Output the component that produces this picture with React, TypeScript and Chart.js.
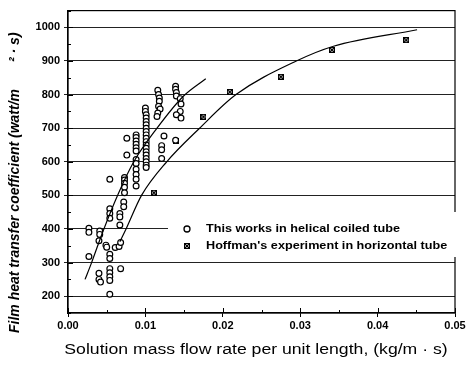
import { useEffect, useRef } from "react";
import { Chart, registerables } from "chart.js";

Chart.register(...registerables);

// Data
const helicalX = [
  0.0027, 0.0027, 0.0027,
  0.0041, 0.0041, 0.004, 0.004, 0.004, 0.0042,
  0.0049, 0.005,
  0.0054, 0.0054, 0.0054, 0.0054, 0.0054, 0.0054, 0.0054, 0.0054, 0.0054, 0.0054, 0.0054,
  0.0061, 0.0066, 0.0068, 0.0068, 0.0067, 0.0067, 0.0067,
  0.0073, 0.0073, 0.0073, 0.0073, 0.0073, 0.0072, 0.0072,
  0.0076, 0.0076,
  0.0088, 0.0088, 0.0088, 0.0088, 0.0088, 0.0088, 0.0088, 0.0088, 0.0088, 0.0088, 0.0088, 0.0088,
  0.01, 0.01, 0.0101, 0.0101, 0.0101, 0.0101, 0.0101, 0.0101, 0.0101, 0.0101, 0.0101, 0.0101, 0.0101, 0.0101, 0.0101, 0.0101, 0.0101, 0.0101, 0.0101,
  0.0116, 0.0117, 0.0118, 0.0118, 0.0117, 0.0119, 0.0116, 0.0115,
  0.0124, 0.0121, 0.0121, 0.0121,
  0.0139, 0.0139, 0.014, 0.014, 0.0145, 0.0146, 0.0145, 0.014, 0.0146, 0.0139,
];
const helicalY = [
  402, 390, 318,
  394, 384, 365, 268, 250, 242,
  352, 346,
  548, 460, 446, 432, 325, 312, 282, 270, 258, 247, 206,
  345, 348, 360, 282, 446, 436, 412,
  553, 546, 536, 524, 508, 480, 466,
  670, 620,
  680, 672, 662, 652, 642, 632, 607, 595, 578, 562, 548, 528,
  760, 750, 740, 730, 720, 710, 700, 690, 680, 670, 660, 650, 640, 630, 620, 610, 600, 590, 583,
  813, 800, 790, 780, 765, 757, 745, 735,
  677, 648, 636, 610,
  825, 816, 806, 796, 788, 772, 750, 740, 730, 664,
];

const hoffmanX = [0.0111, 0.0139, 0.0175, 0.0209, 0.0275, 0.0341, 0.0437];
const hoffmanY = [508, 662, 734, 808, 853, 933, 962];

const upperFitX = [0.0022, 0.003, 0.0045, 0.0064, 0.0085, 0.0115, 0.0149, 0.0178];
const upperFitY = [250, 297, 392, 500, 600, 700, 795, 847];

const lowerFitX = [0.0067, 0.0075, 0.0095, 0.01275, 0.017, 0.0217, 0.0295, 0.0343, 0.0451];
const lowerFitY = [362, 400, 500, 600, 700, 800, 900, 944, 993];

const xTicks = [0, 0.01, 0.02, 0.03, 0.04, 0.05];
const yTicks = [200, 300, 400, 500, 600, 700, 800, 900, 1000];

const seriesLabels = ["This works in helical coiled tube", "Hoffman's experiment in horizontal tube"];
const xTitle = "Solution mass flow rate per unit length, (kg/m · s)";
const yTitleMain = "Film heat transfer coefficient (watt/m";
const yTitleTail = "² · s)";

const FONT = "'Liberation Sans', Arial, sans-serif";

function makeHoffmanMarker(): HTMLCanvasElement {
  const c = document.createElement("canvas");
  c.width = 6;
  c.height = 6;
  const g = c.getContext("2d")!;
  g.fillStyle = "#999";
  g.fillRect(0.5, 0.5, 5, 5);
  g.strokeStyle = "#000";
  g.lineWidth = 1;
  g.strokeRect(0.5, 0.5, 5, 5);
  g.beginPath();
  g.moveTo(0.5, 0.5);
  g.lineTo(5.5, 5.5);
  g.moveTo(5.5, 0.5);
  g.lineTo(0.5, 5.5);
  g.stroke();
  return c;
}

function stretchedText(ctx: CanvasRenderingContext2D, text: string, x: number, y: number, sx: number) {
  ctx.save();
  ctx.translate(x, y);
  ctx.scale(sx, 1);
  ctx.fillText(text, 0, 0);
  ctx.restore();
}

export default function App() {
  const ref = useRef<HTMLCanvasElement | null>(null);

  useEffect(() => {
    document.body.style.margin = "0";
    const canvas = ref.current;
    if (!canvas) return;
    const marker = makeHoffmanMarker();

    const framePlugin = {
      id: "frameAndExtras",
      afterDatasetsDraw(chart: any) {
        const { ctx, chartArea } = chart;
        const xs = chart.scales.x;
        const ys = chart.scales.y;
        ctx.save();
        ctx.strokeStyle = "#000";
        ctx.lineWidth = 1.2;
        ctx.strokeRect(chartArea.left, chartArea.top, chartArea.right - chartArea.left, chartArea.bottom - chartArea.top);
        // inward ticks
        ctx.lineWidth = 1;
        ctx.beginPath();
        for (let i = 0; i <= 10; i++) {
          const v = i * 0.005;
          const px = Math.round(xs.getPixelForValue(v)) + 0.5;
          const len = i % 2 === 0 ? 5 : 3;
          ctx.moveTo(px, chartArea.bottom);
          ctx.lineTo(px, chartArea.bottom - len);
        }
        for (let v = 150; v <= 1050; v += 50) {
          const py = Math.round(ys.getPixelForValue(v)) + 0.5;
          const len = v % 100 === 0 ? 5 : 3;
          ctx.moveTo(chartArea.left, py);
          ctx.lineTo(chartArea.left + len, py);
        }
        ctx.stroke();

        // legend box
        ctx.fillStyle = "#fff";
        ctx.fillRect(168, 212, 292, 45);
        ctx.beginPath();
        ctx.arc(187, 229, 3, 0, Math.PI * 2);
        ctx.lineWidth = 1.3;
        ctx.strokeStyle = "#000";
        ctx.stroke();
        ctx.drawImage(marker, 184, 243);
        ctx.fillStyle = "#000";
        ctx.font = `bold 11px ${FONT}`;
        ctx.textAlign = "left";
        ctx.textBaseline = "middle";
        stretchedText(ctx, seriesLabels[0], 206, 229, 1.15);
        stretchedText(ctx, seriesLabels[1], 206, 246, 1.15);

        // x title
        ctx.font = `14px ${FONT}`;
        ctx.textAlign = "center";
        stretchedText(ctx, xTitle, 256, 350, 1.26);

        // y title
        ctx.save();
        ctx.translate(15, 333);
        ctx.rotate(-Math.PI / 2);
        ctx.textAlign = "left";
        ctx.font = `italic bold 14px ${FONT}`;
        ctx.fillText(yTitleMain, 0, 0);
        ctx.fillText(yTitleTail, 271, 0);
        ctx.restore();
        ctx.restore();
      },
    };

    const chart = new Chart(canvas, {
      type: "scatter",
      data: {
        datasets: [
          {
            label: "upper fit",
            data: upperFitX.map((x, i) => ({ x, y: upperFitY[i] })),
            showLine: true,
            pointRadius: 0,
            borderColor: "#000",
            borderWidth: 1.2,
            cubicInterpolationMode: "monotone",
          },
          {
            label: "lower fit",
            data: lowerFitX.map((x, i) => ({ x, y: lowerFitY[i] })),
            showLine: true,
            pointRadius: 0,
            borderColor: "#000",
            borderWidth: 1.2,
            cubicInterpolationMode: "monotone",
          },
          {
            label: seriesLabels[0],
            data: helicalX.map((x, i) => ({ x, y: helicalY[i] })),
            pointStyle: "circle",
            pointRadius: 2.9,
            borderWidth: 1.2,
            borderColor: "#000",
            backgroundColor: "#fff",
          },
          {
            label: seriesLabels[1],
            data: hoffmanX.map((x, i) => ({ x, y: hoffmanY[i] })),
            pointStyle: marker,
            pointRadius: 3,
          },
        ] as any,
      },
      options: {
        responsive: false,
        animation: false,
        layout: { padding: { left: 0, right: 15, top: 4, bottom: 0 } },
        plugins: {
          legend: { display: false },
          tooltip: { enabled: false },
        },
        scales: {
          x: {
            type: "linear",
            min: 0,
            max: 0.05,
            afterBuildTicks: (s: any) => {
              s.ticks = xTicks.map((v) => ({ value: v }));
            },
            afterFit: (s: any) => {
              s.height = 55;
            },
            ticks: {
              color: "#000",
              font: { family: FONT, size: 11, weight: "bold" },
              padding: 2,
              callback: (v: any) => Number(v).toFixed(2),
            },
            grid: { drawOnChartArea: false, drawTicks: true, tickLength: 4, color: "#000" },
            border: { display: true, color: "#000", width: 1.2 },
          },
          y: {
            type: "linear",
            min: 150,
            max: 1050,
            afterBuildTicks: (s: any) => {
              s.ticks = yTicks.map((v) => ({ value: v }));
            },
            afterFit: (s: any) => {
              s.width = 68;
            },
            ticks: {
              color: "#000",
              font: { family: FONT, size: 11, weight: "bold" },
              padding: 4,
              callback: (v: any) => String(v),
            },
            grid: { color: "#222", lineWidth: 1, drawTicks: true, tickLength: 4 },
            border: { display: true, color: "#000", width: 1.2 },
          },
        },
      } as any,
      plugins: [framePlugin],
    });
    return () => chart.destroy();
  }, []);

  return (
    <div style={{ width: 470, height: 368, background: "#fff" }}>
      <canvas ref={ref} width={470} height={368} style={{ display: "block" }} />
    </div>
  );
}
